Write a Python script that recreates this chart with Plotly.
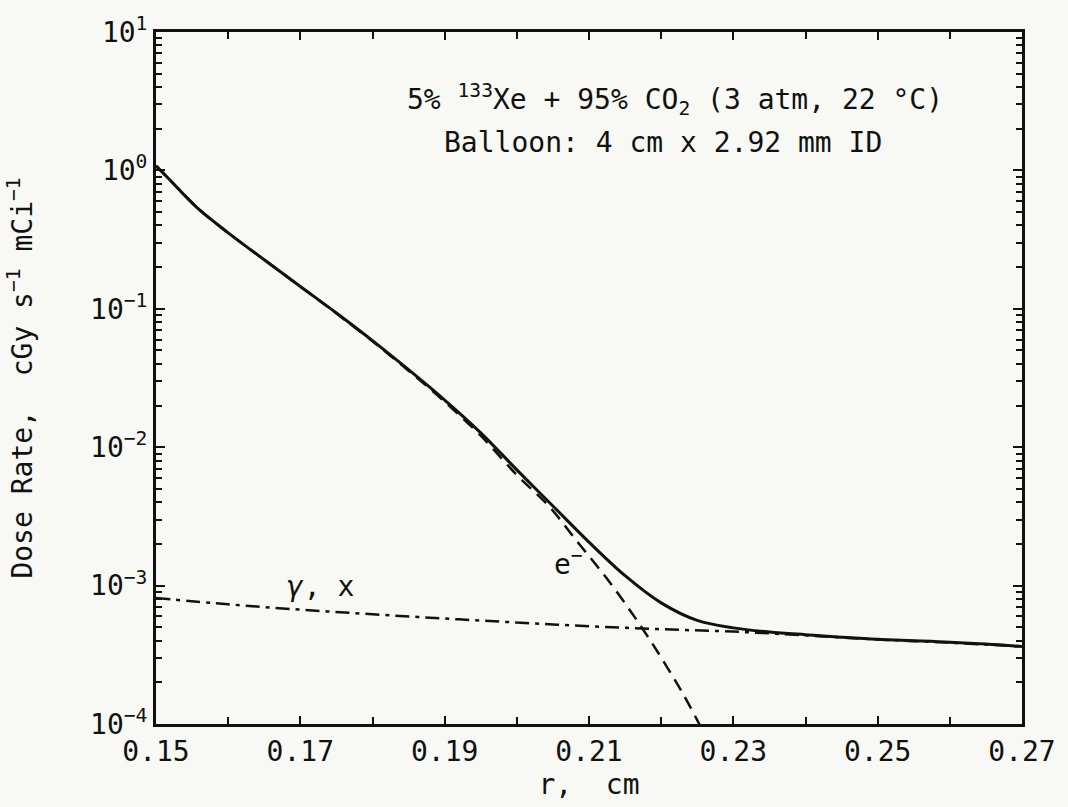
import numpy as np
import plotly.graph_objects as go

# Total dose rate (solid)
r_total = [0.150, 0.1515, 0.1535, 0.156, 0.160, 0.165, 0.170, 0.175, 0.180, 0.185,
           0.190, 0.195, 0.200, 0.205, 0.210, 0.215, 0.220, 0.225, 0.230, 0.235,
           0.240, 0.250, 0.260, 0.265, 0.270]
dose_total = [1.08, 0.90, 0.70, 0.52, 0.354, 0.226, 0.145, 0.0933, 0.0589, 0.0363,
              0.0219, 0.0127, 0.00686, 0.00376, 0.00206, 0.00118, 7.5e-4, 5.6e-4, 4.95e-4, 4.62e-4,
              4.42e-4, 4.10e-4, 3.90e-4, 3.78e-4, 3.63e-4]

# Electron component (dashed)
r_e = [0.150, 0.1515, 0.1535, 0.156, 0.160, 0.165, 0.170, 0.175, 0.180, 0.185,
       0.190, 0.195, 0.200, 0.2045, 0.2085, 0.2125, 0.2165, 0.2200, 0.2230, 0.2255]
dose_e = [1.08, 0.90, 0.70, 0.52, 0.354, 0.226, 0.145, 0.0927, 0.0583, 0.0357,
          0.0213, 0.0121, 0.0063, 3.72e-3, 2.04e-3, 1.12e-3, 5.75e-4, 3.02e-4, 1.66e-4, 9.5e-5]

# Photon (gamma, x) component (dash-dot)
r_gamma = [0.150, 0.160, 0.170, 0.180, 0.190, 0.200, 0.210, 0.220, 0.230, 0.240,
           0.250, 0.260, 0.270]
dose_gamma = [8.13e-4, 7.33e-4, 6.70e-4, 6.21e-4, 5.78e-4, 5.41e-4, 5.09e-4, 4.84e-4,
              4.65e-4, 4.37e-4, 4.08e-4, 3.87e-4, 3.62e-4]

x_ticks = [0.15, 0.17, 0.19, 0.21, 0.23, 0.25, 0.27]
x_ticklabels = ["0.15", "0.17", "0.19", "0.21", "0.23", "0.25", "0.27"]
y_ticks = [1e-4, 1e-3, 1e-2, 1e-1, 1e0, 1e1]
y_ticklabels = ["10<sup>−4</sup>", "10<sup>−3</sup>", "10<sup>−2</sup>",
                "10<sup>−1</sup>", "10<sup>0</sup>", "10<sup>1</sup>"]

FONT = "DejaVu Sans Mono"
BG = "#f8f8f4"
INK = "#111111"
FS = 28

fig = go.Figure()
fig.add_trace(go.Scatter(x=r_gamma, y=dose_gamma, mode="lines",
                         line=dict(color=INK, width=2.5, dash="14px,6px,4px,6px", shape="spline"),
                         showlegend=False))
fig.add_trace(go.Scatter(x=r_e, y=dose_e, mode="lines",
                         line=dict(color=INK, width=2.5, dash="13px,8px", shape="spline"),
                         showlegend=False))
fig.add_trace(go.Scatter(x=r_total, y=dose_total, mode="lines",
                         line=dict(color=INK, width=3, shape="spline"),
                         showlegend=False))

minor_y = [k * 10.0 ** e for e in range(-4, 1) for k in range(2, 10)]

fig.update_layout(
    width=1068, height=807,
    margin=dict(l=156, r=38, t=22, b=83),
    paper_bgcolor=BG, plot_bgcolor=BG,
    font=dict(family=FONT, size=FS, color=INK),
    xaxis=dict(range=[0.15, 0.27], tickmode="array", tickvals=x_ticks, ticktext=x_ticklabels,
               ticks="inside", ticklen=8, tickwidth=2, tickcolor=INK,
               showline=True, linewidth=3, linecolor=INK, mirror="ticks",
               showgrid=False, zeroline=False,
               minor=dict(dtick=0.01, ticks="inside", ticklen=7, tickwidth=2, tickcolor=INK, showgrid=False),
               title=dict(text="r,  cm", standoff=4, font=dict(size=FS))),
    yaxis=dict(type="log", range=[-4, 1], tickmode="array", tickvals=y_ticks, ticktext=y_ticklabels,
               ticks="inside", ticklen=9, tickwidth=2, tickcolor=INK,
               showline=True, linewidth=3, linecolor=INK, mirror="ticks",
               showgrid=False, zeroline=False,
               minor=dict(tickmode="array", tickvals=minor_y, ticks="inside", ticklen=6, tickwidth=2,
                          tickcolor=INK, showgrid=False),
               title=dict(text="Dose Rate,  cGy s<sup>−1</sup> mCi<sup>−1</sup>", standoff=50, font=dict(size=FS))),
    annotations=[
        dict(x=0.2219, y=0.509, xref="x", yref="y", showarrow=False,
             text="5% <sup>133</sup>Xe + 95% CO<sub>2</sub> (3 atm, 22 °C)", font=dict(size=FS)),
        dict(x=0.2203, y=0.202, xref="x", yref="y", showarrow=False,
             text="Balloon: 4 cm x 2.92 mm ID", font=dict(size=FS)),
        dict(x=0.1728, y=-3.01, xref="x", yref="y", showarrow=False,
             text="<i>γ</i>, x", font=dict(size=FS)),
        dict(x=0.2071, y=-2.83, xref="x", yref="y", showarrow=False,
             text="e<sup>−</sup>", font=dict(size=FS)),
    ],
)

fig.write_html("out.html")
